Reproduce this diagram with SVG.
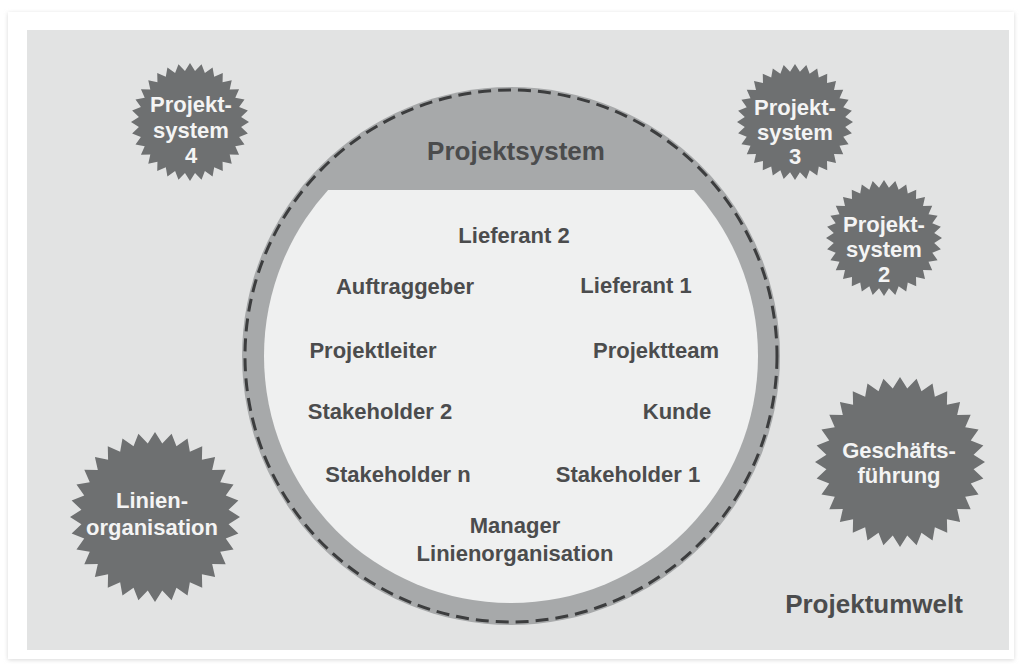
<svg xmlns="http://www.w3.org/2000/svg" xmlns:xlink="http://www.w3.org/1999/xlink" width="1021" height="664" viewBox="0 0 1021 664">
<style>
.lbl{font-family:"Liberation Sans",Arial,sans-serif;font-weight:bold;font-size:22px;fill:#4b4c4d;text-anchor:middle}
.big{font-size:26px}
.st{font-family:"Liberation Sans",Arial,sans-serif;font-weight:bold;font-size:22px;fill:#f4f4f4;text-anchor:middle}
.starfill{fill:#6e7071}
</style>
<defs>
<polygon id="star" points="100,0 86.58,8.53 98.08,19.51 83.25,25.25 92.39,38.27 76.73,41.01 83.15,55.56 67.25,55.19 70.71,70.71 55.19,67.25 55.56,83.15 41.01,76.73 38.27,92.39 25.25,83.25 19.51,98.08 8.53,86.58 0,100 -8.53,86.58 -19.51,98.08 -25.25,83.25 -38.27,92.39 -41.01,76.73 -55.56,83.15 -55.19,67.25 -70.71,70.71 -67.25,55.19 -83.15,55.56 -76.73,41.01 -92.39,38.27 -83.25,25.25 -98.08,19.51 -86.58,8.53 -100,0 -86.58,-8.53 -98.08,-19.51 -83.25,-25.25 -92.39,-38.27 -76.73,-41.01 -83.15,-55.56 -67.25,-55.19 -70.71,-70.71 -55.19,-67.25 -55.56,-83.15 -41.01,-76.73 -38.27,-92.39 -25.25,-83.25 -19.51,-98.08 -8.53,-86.58 0,-100 8.53,-86.58 19.51,-98.08 25.25,-83.25 38.27,-92.39 41.01,-76.73 55.56,-83.15 55.19,-67.25 70.71,-70.71 67.25,-55.19 83.15,-55.56 76.73,-41.01 92.39,-38.27 83.25,-25.25 98.08,-19.51 86.58,-8.53"/>
<clipPath id="lowerClip"><rect x="0" y="190" width="1021" height="474"/></clipPath>
<filter id="shadow" x="-5%" y="-5%" width="110%" height="110%"><feGaussianBlur stdDeviation="2"/></filter>
</defs>
<rect width="1021" height="664" fill="#ffffff"/>
<rect x="8" y="13" width="1006" height="647" fill="#d8d8d8" filter="url(#shadow)"/>
<rect x="8" y="12" width="1006" height="647" fill="#ffffff"/>
<rect x="27" y="30" width="982" height="620" fill="#e2e3e3"/>

<g id="projektsystem">
<circle cx="511" cy="356" r="269" fill="#a7a9aa"/>
<circle cx="511" cy="356" r="247" fill="#eff0f0" clip-path="url(#lowerClip)"/>
<circle cx="511" cy="356" r="266" fill="none" stroke="#3c3d3e" stroke-width="3" stroke-dasharray="13 7"/>
<text class="lbl big" x="516" y="160">Projektsystem</text>
</g>

<g id="lieferant2"><text class="lbl" x="514" y="243">Lieferant 2</text></g>
<g id="auftraggeber"><text class="lbl" x="405" y="294">Auftraggeber</text></g>
<g id="lieferant1"><text class="lbl" x="636" y="293">Lieferant 1</text></g>
<g id="projektleiter"><text class="lbl" x="373" y="358">Projektleiter</text></g>
<g id="projektteam"><text class="lbl" x="656" y="358">Projektteam</text></g>
<g id="stakeholder2"><text class="lbl" x="380" y="419">Stakeholder 2</text></g>
<g id="kunde"><text class="lbl" x="677" y="419">Kunde</text></g>
<g id="stakeholdern"><text class="lbl" x="398" y="482">Stakeholder n</text></g>
<g id="stakeholder1"><text class="lbl" x="628" y="482">Stakeholder 1</text></g>
<g id="manager"><text class="lbl" x="515" y="533">Manager</text><text class="lbl" x="515" y="561">Linienorganisation</text></g>

<g id="projektsystem4">
<use xlink:href="#star" class="starfill" transform="translate(190,122) scale(0.59)"/>
<text class="st" x="191" y="112">Projekt-</text><text class="st" x="191" y="138">system</text><text class="st" x="191" y="163">4</text>
</g>
<g id="projektsystem3">
<use xlink:href="#star" class="starfill" transform="translate(795,122) scale(0.58)"/>
<text class="st" x="795" y="115">Projekt-</text><text class="st" x="795" y="140">system</text><text class="st" x="795" y="164">3</text>
</g>
<g id="projektsystem2">
<use xlink:href="#star" class="starfill" transform="translate(884,238) scale(0.58)"/>
<text class="st" x="884" y="232">Projekt-</text><text class="st" x="884" y="257">system</text><text class="st" x="884" y="282">2</text>
</g>
<g id="geschaeftsfuehrung">
<use xlink:href="#star" class="starfill" transform="translate(900,462) scale(0.85)"/>
<text class="st" x="899" y="458">Geschäfts-</text><text class="st" x="899" y="483">führung</text>
</g>
<g id="linienorganisation">
<use xlink:href="#star" class="starfill" transform="translate(155,517) scale(0.85)"/>
<text class="st" x="152" y="508">Linien-</text><text class="st" x="152" y="535">organisation</text>
</g>

<g id="projektumwelt"><text class="lbl big" x="874" y="613">Projektumwelt</text></g>
<g id="connectors"/>
</svg>
